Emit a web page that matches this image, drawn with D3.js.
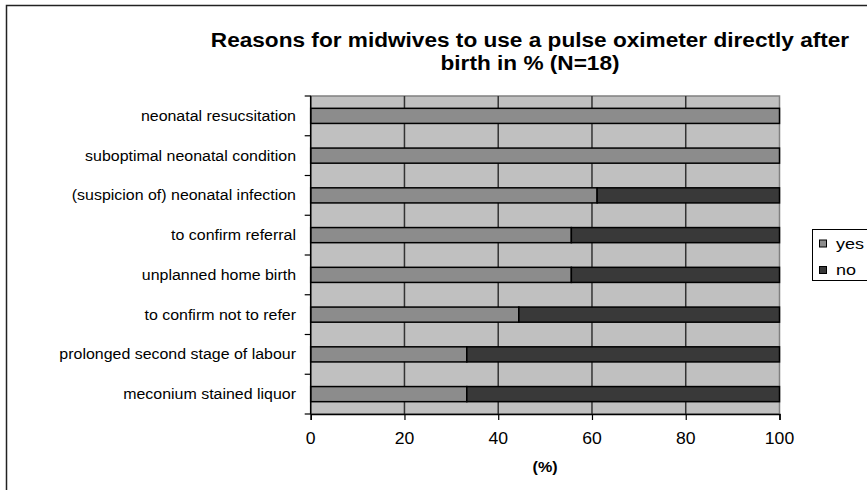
<!DOCTYPE html>
<html>
<head>
<meta charset="utf-8">
<script src="https://cdn.jsdelivr.net/npm/d3@7"></script>
<style>
  body { margin: 0; background: #fff; }
  svg { display: block; font-family: "Liberation Sans", Arial, sans-serif; }
</style>
</head>
<body>
<svg></svg>
<script>
// data
const categories = [
    "neonatal resucsitation",
    "suboptimal neonatal condition",
    "(suspicion of) neonatal infection",
    "to confirm referral",
    "unplanned home birth",
    "to confirm not to refer",
    "prolonged second stage of labour",
    "meconium stained liquor"
]
const yesValues = [100, 100, 61.1, 55.6, 55.6, 44.4, 33.3, 33.3]
const noValues = [0, 0, 38.9, 44.4, 44.4, 55.6, 66.7, 66.7]
const seriesNames = ["yes", "no"]
const xTicks = [0, 20, 40, 60, 80, 100]

const
    svgWidth = 867,
    svgHeight = 490,
    LEFT = 310.7,
    RIGHT = 779.5,
    TOP = 96,
    BOTTOM = 414

const colors = { yes: "#8c8c8c", no: "#393939" }

let svg = d3.select('svg')
    .attr('width', svgWidth)
    .attr('height', svgHeight)

// the original chart text is a bit stretched horizontally
function stretchedText(parent, x, y, sx, str) {
    return parent.append("g")
        .attr("transform", `translate(${x},${y}) scale(${sx},1)`)
        .append("text")
        .text(str)
}

// outer chart border (cut off on right/bottom like the reference)
svg.append("rect")
    .attr("x", 6.5).attr("y", 5.5)
    .attr("width", 900).attr("height", 520)
    .attr("fill", "#fff")
    .attr("stroke", "#222")
    .attr("stroke-width", 1.5)

// title
stretchedText(svg, 530, 47, 1.16, "Reasons for midwives to use a pulse oximeter directly after")
    .attr("text-anchor", "middle").attr("font-weight", "bold").attr("font-size", 19.5)
stretchedText(svg, 530, 70, 1.16, "birth in % (N=18)")
    .attr("text-anchor", "middle").attr("font-weight", "bold").attr("font-size", 19.5)

const x = d3.scaleLinear().domain([0, 100]).range([LEFT, RIGHT])
const y = d3.scaleBand().domain(categories).range([TOP, BOTTOM]).paddingInner(0.62).paddingOuter(0.31)

// plot background
svg.append("rect")
    .attr("x", LEFT).attr("y", TOP)
    .attr("width", RIGHT - LEFT).attr("height", BOTTOM - TOP)
    .attr("fill", "#c0c0c0")
    .attr("stroke", "#808080")
    .attr("stroke-width", 1.5)

// vertical gridlines
svg.append("g")
    .selectAll("line")
    .data(xTicks.slice(1, -1))
    .join("line")
    .attr("x1", d => x(d)).attr("x2", d => x(d))
    .attr("y1", TOP).attr("y2", BOTTOM)
    .attr("stroke", "#333")
    .attr("stroke-width", 1.5)

// stacked bars
const rows = categories.map((c, i) => ({ cat: c, yes: yesValues[i], no: noValues[i] }))
const stack = d3.stack().keys(seriesNames)(rows)

svg.append("g")
    .selectAll("g")
    .data(stack)
    .join("g")
    .attr("fill", d => colors[d.key])
    .selectAll("rect")
    .data(d => d.filter(p => p[1] - p[0] > 0))
    .join("rect")
    .attr("x", d => x(d[0]))
    .attr("y", d => y(d.data.cat))
    .attr("width", d => x(d[1]) - x(d[0]))
    .attr("height", y.bandwidth())
    .attr("stroke", "#000")
    .attr("stroke-width", 1.5)

// y axis: ticks at band boundaries
const yAxis = svg.append("g")
yAxis.append("line")
    .attr("x1", LEFT).attr("x2", LEFT)
    .attr("y1", TOP).attr("y2", BOTTOM)
    .attr("stroke", "#000").attr("stroke-width", 1.5)
yAxis.selectAll(".tk")
    .data(d3.range(categories.length + 1))
    .join("line")
    .attr("x1", LEFT - 6).attr("x2", LEFT)
    .attr("y1", i => TOP + i * (BOTTOM - TOP) / categories.length)
    .attr("y2", i => TOP + i * (BOTTOM - TOP) / categories.length)
    .attr("stroke", "#000").attr("stroke-width", 1.2)
categories.forEach(c => {
    stretchedText(yAxis, 296, y(c) + y.bandwidth() / 2, 1.1, c)
        .attr("dy", "0.35em")
        .attr("text-anchor", "end")
        .attr("font-size", 14.5)
        .attr("fill", "#000")
})

// x axis
const xAxis = svg.append("g")
    .attr("transform", `translate(0,${BOTTOM})`)
    .call(d3.axisBottom(x).tickValues(xTicks).tickSize(6).tickFormat(""))
xAxis.select(".domain").attr("stroke-width", 1.5)
xAxis.selectAll(".tick line").attr("stroke-width", 1.2)
xTicks.forEach(t => {
    stretchedText(svg, x(t), 438, 1.1, d3.format("d")(t))
        .attr("dy", "0.35em")
        .attr("text-anchor", "middle")
        .attr("font-size", 16)
})

stretchedText(svg, (LEFT + RIGHT) / 2, 467, 1.15, "(%)")
    .attr("dy", "0.35em")
    .attr("text-anchor", "middle")
    .attr("font-weight", "bold")
    .attr("font-size", 14)

// legend
const legend = svg.append("g")
legend.append("rect")
    .attr("x", 812.5).attr("y", 229.5)
    .attr("width", 80).attr("height", 51)
    .attr("fill", "#fff")
    .attr("stroke", "#000").attr("stroke-width", 1)
seriesNames.forEach((s, i) => {
    const cy = 243.5 + i * 26.5
    legend.append("rect")
        .attr("x", 819.5).attr("y", cy - 3.5)
        .attr("width", 7).attr("height", 7)
        .attr("fill", colors[s])
        .attr("stroke", "#000").attr("stroke-width", 1)
    stretchedText(legend, 836, cy, 1.2, s)
        .attr("dy", "0.35em")
        .attr("font-size", 15)
})
</script>
</body>
</html>
